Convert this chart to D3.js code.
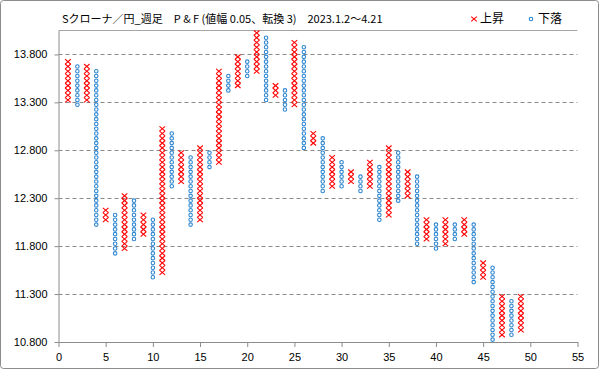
<!DOCTYPE html>
<html><head><meta charset="utf-8">
<script src="https://cdn.jsdelivr.net/npm/d3@7"></script>
<style>
html,body{margin:0;padding:0;background:#fff;}
svg{display:block;}
text{font-family:"Liberation Sans","Noto Sans CJK JP",sans-serif;}
</style></head>
<body>
<script>
// P&F columns (box lower bounds), box = 0.05, reversal = 3
const colType = ["X","O","X","O","X","O","X","O","X","O",
                 "X","O","X","O","X","O","X","O","X","O",
                 "X","O","X","O","X","O","X","O","X","O",
                 "X","O","X","O","X","O","X","O","X","O",
                 "X","O","X","O","X","O","X","O","X"];
const colLow  = [13.30,13.25,13.30,12.00,12.05,11.70,11.75,11.85,11.90,11.45,
                 11.50,12.40,12.45,12.00,12.05,12.60,12.65,13.40,13.45,13.55,
                 13.60,13.30,13.35,13.20,13.25,12.80,12.85,12.35,12.40,12.40,
                 12.45,12.35,12.40,12.05,12.10,12.25,12.30,11.80,11.85,11.75,
                 11.80,11.85,11.90,11.40,11.45,10.80,10.85,10.85,10.90];
const colHigh = [13.70,13.65,13.65,13.60,12.15,12.10,12.30,12.25,12.10,12.05,
                 13.00,12.95,12.75,12.70,12.80,12.75,13.60,13.55,13.75,13.70,
                 14.00,13.95,13.45,13.40,13.90,13.85,12.95,12.90,12.70,12.65,
                 12.55,12.50,12.65,12.60,12.80,12.75,12.55,12.50,12.05,12.00,
                 12.05,12.00,12.05,12.00,11.60,11.55,11.25,11.20,11.25];
const boxSize = 0.05;
const yTicks = [10.8,11.3,11.8,12.3,12.8,13.3,13.8];
const xTicks = [0,5,10,15,20,25,30,35,40,45,50,55];
const titleText = "Sクローナ／円_週足　P & F (値幅 0.05、転換 3)　2023.1.2～4.21";
const legendLabels = ["上昇","下落"];

const W = 599, H = 369;
const xRed = "#FF0000", oBlue = "#2E86D0";
const svg = d3.select("body").append("svg").attr("width",W).attr("height",H);

// outer frame
svg.append("rect").attr("x",0.5).attr("y",0.5).attr("width",W-1).attr("height",H-1)
  .attr("rx",3).attr("fill","#fff").attr("stroke","#8c8c8c").attr("stroke-width",1);

const pLeft = 58.5, pRight = 577.5, pTop = 30.5, pBottom = 342;
const x = d3.scaleLinear().domain([0,55]).range([pLeft,pRight]);
const y = d3.scaleLinear().domain([10.8,14.05]).range([pBottom,pTop]);

// plot top border
svg.append("line").attr("x1",pLeft).attr("x2",pRight).attr("y1",pTop).attr("y2",pTop)
  .attr("stroke","#a6a6a6");

// gridlines
svg.append("g").selectAll("line").data(yTicks.slice(1)).join("line")
  .attr("x1",pLeft).attr("x2",pRight)
  .attr("y1",d=>Math.round(y(d))+0.5).attr("y2",d=>Math.round(y(d))+0.5)
  .attr("stroke","#8a8a8a").attr("stroke-dasharray","4,3").attr("stroke-width",1);

// axes
const yAxis = d3.axisLeft(y).tickValues(yTicks).tickFormat(d3.format(".3f")).tickSizeInner(4).tickSizeOuter(0).tickPadding(7);
const gy = svg.append("g").attr("transform",`translate(${pLeft},0)`).call(yAxis);
const xAxis = d3.axisBottom(x).tickValues(xTicks).tickFormat(d3.format("d")).tickSizeInner(5).tickSizeOuter(0).tickPadding(6);
const gx = svg.append("g").attr("transform",`translate(0,${pBottom})`).call(xAxis);
[gx,gy].forEach(g=>{
  g.selectAll("path").attr("stroke","#8c8c8c");
  g.selectAll("line").attr("stroke","#8c8c8c");
  g.selectAll("text").attr("fill","#000").style("font-size","11px")
   .style("font-family","'Liberation Sans',Arial,sans-serif");
});

// marks
const marks = [];
colType.forEach((t,i)=>{
  const n = Math.round((colHigh[i]-colLow[i])/boxSize);
  for(let k=0;k<=n;k++){
    marks.push({col:i+1,type:t,v:colLow[i]+k*boxSize});
  }
});
const hx = 2.8, hy = 2.4;
const gm = svg.append("g");
gm.selectAll("path.x").data(marks.filter(d=>d.type==="X")).join("path")
  .attr("class","x")
  .attr("d",d=>{
    const cx=x(d.col), cy=y(d.v+boxSize/2);
    return `M${cx-hx},${cy-hy}L${cx+hx},${cy+hy}M${cx-hx},${cy+hy}L${cx+hx},${cy-hy}`;
  })
  .attr("stroke",xRed).attr("stroke-width",1.1).attr("fill","none");
gm.selectAll("circle.o").data(marks.filter(d=>d.type==="O")).join("circle")
  .attr("class","o")
  .attr("cx",d=>x(d.col)).attr("cy",d=>y(d.v+boxSize/2)).attr("r",1.75)
  .attr("fill","#fff").attr("stroke",oBlue).attr("stroke-width",1.1);

// title
svg.append("text").attr("x",62).attr("y",23).text(titleText)
  .style("font-size","11px").style("font-family","'Noto Sans CJK JP',sans-serif").attr("fill","#000");

// legend
const lg = svg.append("g");
lg.append("path").attr("d",`M${474-hx},${19-hy}L${474+hx},${19+hy}M${474-hx},${19+hy}L${474+hx},${19-hy}`)
  .attr("stroke",xRed).attr("stroke-width",1.1);
lg.append("text").attr("x",480).attr("y",23).text(legendLabels[0])
  .style("font-size","12px").style("font-family","'Noto Sans CJK JP',sans-serif");
lg.append("circle").attr("cx",531).attr("cy",19).attr("r",1.75).attr("fill","#fff")
  .attr("stroke",oBlue).attr("stroke-width",1.1);
lg.append("text").attr("x",538).attr("y",23).text(legendLabels[1])
  .style("font-size","12px").style("font-family","'Noto Sans CJK JP',sans-serif");
</script>
</body></html>
